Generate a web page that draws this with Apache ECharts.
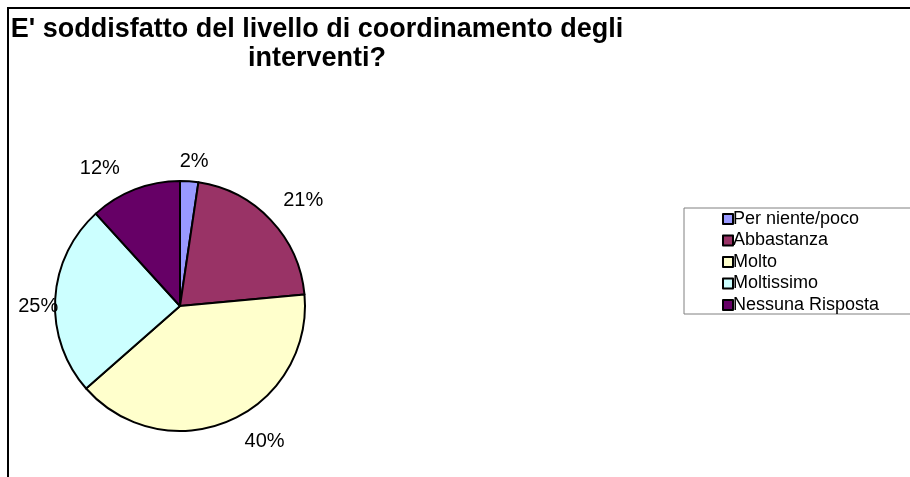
<!DOCTYPE html>
<html>
<head>
<meta charset="utf-8">
<script src="https://cdn.jsdelivr.net/npm/echarts@6/dist/echarts.min.js"></script>
<style>
html,body{margin:0;padding:0;background:#fff;}
#chart{width:910px;height:477px;}
</style>
</head>
<body>
<div id="chart"></div>
<script>
// Data (counts giving 2%, 21%, 40%, 25%, 12%)
const titleText = "E' soddisfatto del livello di coordinamento degli\ninterventi?";
const categories = ["Per niente/poco", "Abbastanza", "Molto", "Moltissimo", "Nessuna Risposta"];
const values = [2, 18, 34, 21, 10];
const colors = ["#9999FF", "#993366", "#FFFFCC", "#CCFFFF", "#660066"];
// label placement tweaks (labelLine length / length2 / top padding) per slice
const labelLen = [20, 28, 23, 0, 22];
const labelLen2 = [-11, -8, 6, -3, 7];
const labelPadTop = [0, 0, 0, 14, 0];

const FONT = "'Liberation Sans', Arial, sans-serif";

const chart = echarts.init(document.getElementById('chart'), null, {renderer: 'canvas'});
const option = {
  backgroundColor: '#ffffff',
  animation: false,
  title: {
    text: titleText,
    left: 317,
    top: 15,
    padding: 0,
    textAlign: 'center',
    textStyle: {fontFamily: FONT, fontWeight: 'bold', fontSize: 27, color: '#000', lineHeight: 29}
  },
  graphic: [{
    type: 'rect',
    shape: {x: 8, y: 8, width: 1000, height: 1000},
    style: {fill: 'none', stroke: '#000', lineWidth: 2},
    silent: true,
    z: 0
  }],
  legend: {
    orient: 'vertical',
    left: 684,
    top: 208,
    padding: [2, 200, 0, 38],
    backgroundColor: '#fff',
    borderColor: '#808080',
    borderWidth: 1,
    borderRadius: 0,
    itemWidth: 10,
    itemHeight: 10,
    itemGap: 3.5,
    icon: 'rect',
    itemStyle: {borderColor: '#000', borderWidth: 2},
    textStyle: {fontFamily: FONT, fontSize: 18, color: '#000', lineHeight: 18, padding: [0, 0, 0, -5]},
    data: categories
  },
  series: [{
    type: 'pie',
    center: [180, 306],
    radius: 125,
    startAngle: 90,
    clockwise: true,
    avoidLabelOverlap: false,
    itemStyle: {borderColor: '#000', borderWidth: 2},
    emphasis: {disabled: true},
    label: {
      show: true,
      position: 'outside',
      distanceToLabelLine: 0,
      fontFamily: FONT,
      fontSize: 20,
      color: '#000',
      formatter: function (p) { return '{p|' + Math.round(p.percent) + '%}'; }
    },
    labelLine: {show: false},
    data: categories.map(function (c, i) {
      return {
        name: c,
        value: values[i],
        itemStyle: {color: colors[i]},
        label: {
          rich: {p: {fontFamily: FONT, fontSize: 20, color: '#000', padding: [labelPadTop[i], 0, 0, 0]}}
        },
        labelLine: {show: false, length: labelLen[i], length2: labelLen2[i]}
      };
    })
  }]
};
chart.setOption(option);
</script>
</body>
</html>
